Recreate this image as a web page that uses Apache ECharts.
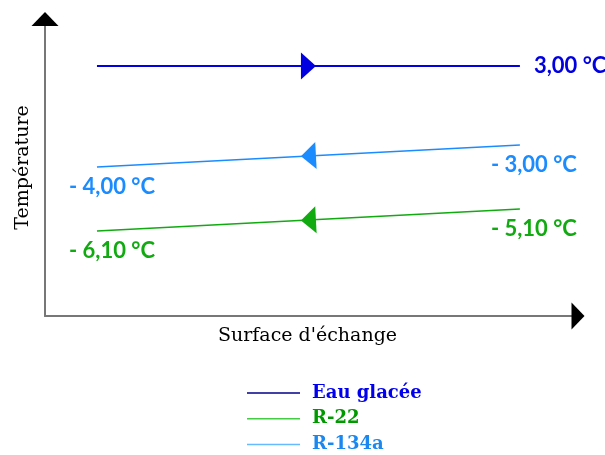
<!DOCTYPE html>
<html><head><meta charset="utf-8">
<script src="https://cdn.jsdelivr.net/npm/echarts@6/dist/echarts.min.js"></script>
<style>html,body{margin:0;padding:0;background:#fff}#c{width:605px;height:455px}</style>
</head><body><div id="c"></div>
<script>
// Schematic chart: x = position along the exchange surface (0-100), y = schematic height (0-100)
const seriesNames = ["Eau glacée", "R-22", "R-134a"];
const xPos = [9.75, 89.1];
const eauY = [84.2, 84.2];
const r22Y = [28.6, 36.0];
const r134Y = [50.2, 57.6];
const eauLabels = ["", "3,00 °C"];
const r22Labels = ["- 6,10 °C", "- 5,10 °C"];
const r134Labels = ["- 4,00 °C", "- 3,00 °C"];
const flowDir = [1, -1, -1]; // +1 left-to-right, -1 right-to-left

const lineColors = ["#0000e0", "#11aa11", "#1a8cff"];
const legendLineColors = ["#000088", "#44cc44", "#66bbff"];
const legendTextColors = ["#0000ee", "#009900", "#1a88ee"];
const labelFont = "Lato, 'Open Sans', sans-serif";
const serifFont = "'DejaVu Serif', 'Liberation Serif', serif";

function mkData(ys, labels, color) {
  return xPos.map((x, i) => {
    const item = { value: [x, ys[i]] };
    if (labels[i]) {
      const start = i === 0;
      item.label = {
        show: true, formatter: labels[i], color: color,
        fontFamily: labelFont, fontSize: 22, fontWeight: 'bold',
        position: start ? [-28, 20] : (ys === eauY ? [14, 0] : [57, 20]),
        align: start ? 'left' : (ys === eauY ? 'left' : 'right'),
        verticalAlign: 'middle'
      };
    }
    return item;
  });
}
const allY = [eauY, r22Y, r134Y];
const allL = [eauLabels, r22Labels, r134Labels];

const series = [];
seriesNames.forEach((n, k) => {
  series.push({
    name: n, type: 'line', symbol: 'circle', symbolSize: 0, showSymbol: true,
    silent: true, z: 2,
    lineStyle: { color: lineColors[k], width: k === 0 ? 2 : 1.5 },
    itemStyle: { color: lineColors[k] },
    data: mkData(allY[k], allL[k], lineColors[k])
  });
});
// direction arrows at the middle of each line
seriesNames.forEach((n, k) => {
  const ys = allY[k];
  const mx = (xPos[0] + xPos[1]) / 2, my = (ys[0] + ys[1]) / 2;
  const slopeDeg = Math.atan2((ys[1] - ys[0]) * 2.97, (xPos[1] - xPos[0]) * 5.33) * 180 / Math.PI;
  series.push({
    type: 'scatter', silent: true, z: 3,
    symbol: 'triangle', symbolSize: [27, 15],
    symbolRotate: flowDir[k] > 0 ? -90 + slopeDeg : 90 + slopeDeg,
    itemStyle: { color: lineColors[k], opacity: 1 },
    data: [[mx, my]]
  });
});

const hidden = { axisTick: { show: false }, axisLabel: { show: false }, splitLine: { show: false } };
const chart = echarts.init(document.getElementById('c'));
chart.setOption({
  animation: false,
  grid: { left: 45, right: 27, top: 19, bottom: 139 },
  xAxis: [{
    type: 'value', min: 0, max: 100, position: 'bottom',
    name: "Surface d'échange", nameLocation: 'middle', nameGap: 11,
    nameTextStyle: { fontFamily: serifFont, fontSize: 19, color: '#000', padding: [0, 8, 0, 0] },
    axisLine: { show: true, onZero: false, lineStyle: { color: '#777', width: 2 } },
    ...hidden
  }, {
    type: 'value', min: 0, max: 100, position: 'bottom', offset: 0,
    axisLine: { show: true, onZero: false, lineStyle: { color: '#000', width: 0.01 }, symbol: ['none', 'triangle'], symbolSize: [27, 13] },
    ...hidden
  }],
  yAxis: [{
    type: 'value', min: 0, max: 100, position: 'left',
    name: "Température", nameLocation: 'middle', nameGap: 12,
    nameTextStyle: { fontFamily: serifFont, fontSize: 19, color: '#000' },
    axisLine: { show: true, onZero: false, lineStyle: { color: '#777', width: 2 } },
    ...hidden
  }, {
    type: 'value', min: 0, max: 100, position: 'left', offset: 0,
    axisLine: { show: true, onZero: false, lineStyle: { color: '#000', width: 0.01 }, symbol: ['none', 'triangle'], symbolSize: [27, 14] },
    ...hidden
  }],
  legend: {
    orient: 'vertical', left: 242, top: 379, height: 80, itemWidth: 53, itemHeight: 1.5, itemGap: 7.7,
    icon: 'rect',
    textStyle: { fontFamily: serifFont, fontSize: 18, fontWeight: 'bold', padding: [0, 0, 0, 7] },
    data: seriesNames.map((n, k) => ({
      name: n, itemStyle: { color: legendLineColors[k] },
      textStyle: { color: legendTextColors[k], fontFamily: serifFont, fontSize: 18, fontWeight: 'bold', padding: [0, 0, 0, 7] }
    }))
  },
  series: series
});
</script></body></html>
